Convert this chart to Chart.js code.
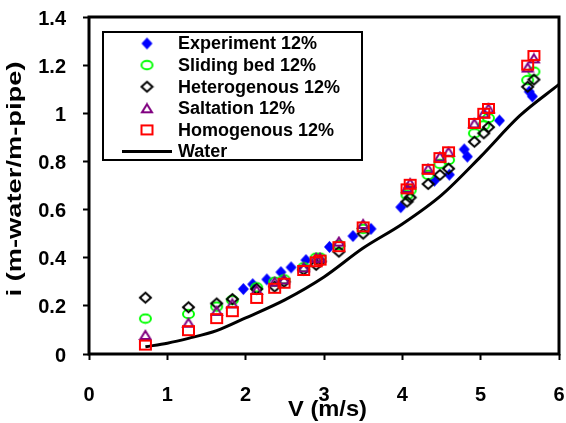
<!DOCTYPE html>
<html>
<head>
<meta charset="utf-8">
<script src="https://cdn.jsdelivr.net/npm/chart.js@4.4.0/dist/chart.umd.min.js"></script>
<style>
  body { margin: 0; background: #fff; }
  #wrap { width: 566px; height: 423px; }
</style>
</head>
<body>
<div id="wrap"><canvas id="slurryChart" width="566" height="423"></canvas></div>
<script>
// values
const expV = [1.97, 2.09, 2.27, 2.45, 2.58, 2.77, 3.07, 3.37, 3.60, 3.98, 4.41, 4.60, 4.79, 4.83, 5.24, 5.62, 5.66];
const expI = [0.27, 0.29, 0.31, 0.34, 0.36, 0.39, 0.445, 0.49, 0.52, 0.61, 0.72, 0.745, 0.85, 0.82, 0.97, 1.09, 1.07];

const modelV = [0.72, 1.27, 1.63, 1.83, 2.14, 2.37, 2.49, 2.74, 2.90, 2.95, 3.19, 3.50, 4.06, 4.10, 4.33, 4.48, 4.59, 4.92, 5.04, 5.10, 5.60, 5.68];
const slidingI = [0.147, 0.166, 0.197, 0.224, 0.277, 0.300, 0.310, 0.360, 0.400, 0.400, 0.453, 0.520, 0.660, 0.680, 0.744, 0.790, 0.806, 0.917, 0.950, 0.980, 1.138, 1.173];
const heteroI = [0.234, 0.194, 0.210, 0.228, 0.270, 0.280, 0.300, 0.350, 0.370, 0.385, 0.425, 0.500, 0.633, 0.650, 0.706, 0.744, 0.770, 0.882, 0.917, 0.942, 1.110, 1.140];
const saltI = [0.079, 0.130, 0.179, 0.210, 0.266, 0.300, 0.310, 0.360, 0.400, 0.400, 0.467, 0.540, 0.690, 0.710, 0.770, 0.820, 0.840, 0.958, 1.000, 1.020, 1.190, 1.228];
const homoI = [0.037, 0.097, 0.147, 0.176, 0.231, 0.273, 0.294, 0.347, 0.383, 0.390, 0.446, 0.528, 0.686, 0.705, 0.767, 0.816, 0.840, 0.958, 1.000, 1.020, 1.200, 1.240];

const waterV = [0.72, 1.0, 1.27, 1.63, 2.0, 2.5, 3.0, 3.5, 4.0, 4.5, 5.0, 5.5, 6.0];
const waterI = [0.03, 0.045, 0.065, 0.097, 0.15, 0.225, 0.32, 0.44, 0.54, 0.66, 0.82, 0.99, 1.12];

const seriesLabels = ['Experiment 12%', 'Sliding bed 12%', 'Heterogenous 12%', 'Saltation 12%', 'Homogenous 12%', 'Water'];
const xTicks = [0, 1, 2, 3, 4, 5, 6];
const yTicks = [0, 0.2, 0.4, 0.6, 0.8, 1, 1.2, 1.4];
const yTickLabels = ['0', '0.2', '0.4', '0.6', '0.8', '1', '1.2', '1.4'];
const xTitle = 'V (m/s)';
const yTitle = 'i (m-water/m-pipe)';

const FONT = '"Liberation Sans", Arial, sans-serif';

document.addEventListener('DOMContentLoaded', function() {
    Chart.defaults.font.family = FONT;
    Chart.defaults.color = '#000';
    createChart();
});

function makeMarker(kind, color, w, h, filled) {
    const c = document.createElement('canvas');
    c.width = w + 4;
    c.height = h + 4;
    const g = c.getContext('2d');
    g.translate(c.width / 2, c.height / 2);
    g.lineWidth = 2;
    g.strokeStyle = color;
    g.fillStyle = color;
    g.beginPath();
    if (kind === 'diamond') {
        g.moveTo(0, -h / 2); g.lineTo(w / 2, 0); g.lineTo(0, h / 2); g.lineTo(-w / 2, 0); g.closePath();
    } else if (kind === 'ellipse') {
        g.ellipse(0, 0, w / 2, h / 2, 0, 0, Math.PI * 2);
    } else if (kind === 'triangle') {
        g.moveTo(0, -h / 2); g.lineTo(w / 2, h / 2); g.lineTo(-w / 2, h / 2); g.closePath();
    } else {
        g.rect(-w / 2, -h / 2, w, h);
    }
    if (filled) g.fill(); else g.stroke();
    return c;
}

function pairs(xs, ys) {
    return xs.map((x, k) => ({ x: x, y: ys[k] }));
}

function markerSet(label, xs, ys, marker, order) {
    return {
        label: label,
        data: pairs(xs, ys),
        pointStyle: marker,
        pointRadius: 6,
        showLine: false,
        order: order
    };
}

// frame around the plot area
const framePlugin = {
    id: 'frame',
    afterDatasetsDraw(chart) {
        const { ctx, chartArea: a } = chart;
        ctx.save();
        ctx.lineWidth = 3;
        ctx.strokeStyle = '#000';
        ctx.strokeRect(a.left, a.top, a.right - a.left, a.bottom - a.top);
        ctx.restore();
    }
};

// boxed legend in the upper left
const boxLegendPlugin = {
    id: 'boxLegend',
    afterDraw(chart) {
        const ctx = chart.ctx;
        const sets = chart.data.datasets;
        ctx.save();
        ctx.fillStyle = '#fff';
        ctx.fillRect(103, 32, 259, 128);
        ctx.lineWidth = 2;
        ctx.strokeStyle = '#000';
        ctx.strokeRect(103, 32, 259, 128);
        ctx.font = 'bold 18px ' + FONT;
        ctx.textBaseline = 'middle';
        ctx.fillStyle = '#000';
        sets.forEach((ds, k) => {
            const y = 43.5 + k * 21.6;
            if (ds.showLine) {
                ctx.beginPath();
                ctx.lineWidth = 3;
                ctx.strokeStyle = ds.borderColor;
                ctx.moveTo(122, y);
                ctx.lineTo(172, y);
                ctx.stroke();
            } else {
                const m = ds.pointStyle;
                ctx.drawImage(m, 147 - m.width / 2, y - m.height / 2);
            }
            ctx.fillText(ds.label, 178, y + 1);
        });
        ctx.restore();
    }
};

// axis titles, stretched to the width seen in the figure
const titlesPlugin = {
    id: 'axisTitles',
    afterDraw(chart) {
        const ctx = chart.ctx;
        ctx.save();
        ctx.fillStyle = '#000';
        ctx.textAlign = 'center';
        ctx.textBaseline = 'middle';

        ctx.font = 'bold 22px ' + FONT;
        let sx = 79 / ctx.measureText(xTitle).width;
        ctx.save();
        ctx.translate(327.5, 410);
        ctx.scale(sx, 1);
        ctx.fillText(xTitle, 0, 0);
        ctx.restore();

        ctx.font = 'bold 21px ' + FONT;
        sx = 235 / ctx.measureText(yTitle).width;
        ctx.translate(15, 179);
        ctx.rotate(-Math.PI / 2);
        ctx.scale(sx, 1);
        ctx.fillText(yTitle, 0, 0);
        ctx.restore();
    }
};

function createChart() {
    const ctx = document.getElementById('slurryChart').getContext('2d');

    const mExp = makeMarker('diamond', '#0000ff', 11, 12, true);
    const mSlide = makeMarker('ellipse', '#00ff00', 11, 8.5, false);
    const mHet = makeMarker('diamond', '#000000', 11, 10, false);
    const mSalt = makeMarker('triangle', '#800080', 10, 8, false);
    const mHomo = makeMarker('square', '#ff0000', 11, 9, false);

    const tickFont = { size: 20, weight: 'bold' };

    new Chart(ctx, {
        type: 'scatter',
        data: {
            datasets: [
                markerSet(seriesLabels[0], expV, expI, mExp, 4),
                markerSet(seriesLabels[1], modelV, slidingI, mSlide, 3),
                markerSet(seriesLabels[2], modelV, heteroI, mHet, 2),
                markerSet(seriesLabels[3], modelV, saltI, mSalt, 1),
                markerSet(seriesLabels[4], modelV, homoI, mHomo, 0),
                {
                    label: seriesLabels[5],
                    data: pairs(waterV, waterI),
                    showLine: true,
                    borderColor: '#000',
                    borderWidth: 3,
                    pointRadius: 0,
                    cubicInterpolationMode: 'monotone',
                    order: 5
                }
            ]
        },
        options: {
            responsive: false,
            animation: false,
            layout: { padding: { left: 0, right: 6, top: 17, bottom: 0 } },
            plugins: {
                legend: { display: false },
                tooltip: { enabled: false }
            },
            scales: {
                x: {
                    type: 'linear',
                    min: 0,
                    max: 6,
                    afterBuildTicks: (scale) => { scale.ticks = xTicks.map(v => ({ value: v })); },
                    afterFit: (scale) => {
                        scale.height = 69;
                        scale.paddingLeft = 0;
                        scale.paddingRight = 0;
                    },
                    ticks: { font: tickFont, color: '#000', padding: 23, maxRotation: 0 },
                    grid: { drawOnChartArea: false, drawTicks: true, tickLength: 6, tickWidth: 2, tickColor: '#000' },
                    border: { display: false }
                },
                y: {
                    min: 0,
                    max: 1.4,
                    afterBuildTicks: (scale) => { scale.ticks = yTicks.map(v => ({ value: v })); },
                    afterFit: (scale) => {
                        scale.width = 89;
                        scale.paddingTop = 0;
                        scale.paddingBottom = 0;
                    },
                    ticks: {
                        font: tickFont,
                        color: '#000',
                        padding: 17,
                        labelOffset: 2,
                        callback: (v, i) => yTickLabels[i]
                    },
                    grid: { drawOnChartArea: false, drawTicks: true, tickLength: 6, tickWidth: 2, tickColor: '#000' },
                    border: { display: false }
                }
            }
        },
        plugins: [framePlugin, boxLegendPlugin, titlesPlugin]
    });
}
</script>
</body>
</html>
